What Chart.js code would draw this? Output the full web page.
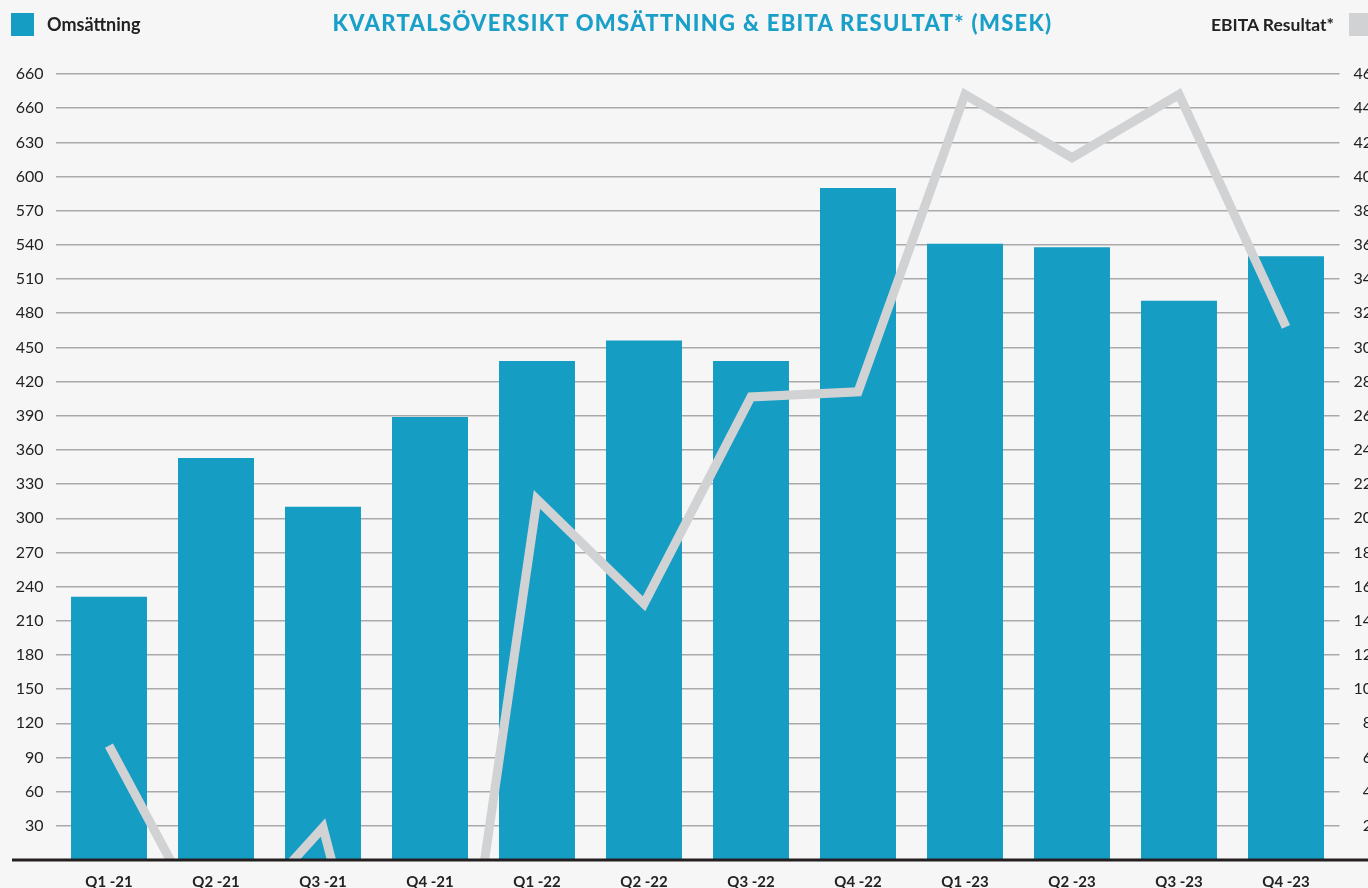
<!DOCTYPE html>
<html><head><meta charset="utf-8">
<script src="https://cdn.jsdelivr.net/npm/chart.js@4"></script>
<style>
html,body{margin:0;padding:0;overflow:hidden;background:#f6f6f6;width:1368px;height:888px;}
#wrap{position:absolute;left:0;top:0;width:1372px;height:888px;}
canvas{position:absolute;left:0;top:0;}
.txt{position:absolute;font-family:Lato,"Open Sans",sans-serif;font-weight:700;white-space:nowrap;}
.box{position:absolute;}
</style></head><body>
<div id="wrap">
<canvas id="c" width="1372" height="888"></canvas>
<div class="box" id="box1" style="left:11px;top:13px;width:23px;height:23px;"></div>
<div class="txt" id="leg1" style="left:47px;top:13px;font-size:18px;color:#222;"></div>
<div class="txt" id="title" style="left:0;width:1385px;text-align:center;top:9px;font-size:22px;font-weight:900;color:#1aa0c8;letter-spacing:1.3px;"></div>
<div class="txt" id="leg2" style="right:38px;top:14px;font-size:17.5px;color:#222;"></div>
<div class="box" id="box2" style="left:1349px;top:13px;width:30px;height:23px;"></div>
</div>
<script>
const titleText = 'KVARTALSÖVERSIKT OMSÄTTNING & EBITA RESULTAT* (MSEK)';
const categories = ['Q1 -21','Q2 -21','Q3 -21','Q4 -21','Q1 -22','Q2 -22','Q3 -22','Q4 -22','Q1 -23','Q2 -23','Q3 -23','Q4 -23'];
const seriesNames = ['Omsättning', 'EBITA Resultat*'];
const omsattning = [231, 353, 310, 389, 438, 456, 438, 590, 541, 538, 491, 530];
const ebita = [6.7, -5, 1.9, -22, 21.1, 15.0, 27.1, 27.4, 44.8, 41.1, 44.8, 31.2];
const leftTickLabels = ['', '30','60','90','120','150','180','210','240','270','300','330','360','390','420','450','480','510','540','570','600','630','660','660'];
const rightTickLabels = ['', '2','4','6','8','10','12','14','16','18','20','22','24','26','28','30','32','34','36','38','40','42','44','46'];
const leftMax = 690, leftStep = 30, rightMax = 46, rightStep = 2;

const barColor = '#169dc3';
const lineColor = '#d1d2d4';

document.getElementById('title').textContent = titleText;
document.getElementById('leg1').textContent = seriesNames[0];
document.getElementById('leg2').textContent = seriesNames[1];
document.getElementById('box1').style.background = barColor;
document.getElementById('box2').style.background = lineColor;

const baselinePlugin = {
  id: 'baseline',
  afterDatasetsDraw(chart) {
    const y = chart.scales.y.getPixelForValue(0);
    const ctx = chart.ctx;
    ctx.save();
    ctx.strokeStyle = '#231f20';
    ctx.lineWidth = 3;
    ctx.beginPath();
    ctx.moveTo(12, y);
    ctx.lineTo(chart.width, y);
    ctx.stroke();
    ctx.restore();
  }
};

const tickFont = {family: 'Lato, "Open Sans", sans-serif', size: 16};

new Chart(document.getElementById('c'), {
  data: {
    labels: categories,
    datasets: [
      {type: 'line', label: seriesNames[1], data: ebita, yAxisID: 'y2', borderColor: lineColor,
       borderWidth: 9, pointRadius: 0, pointHoverRadius: 0, tension: 0, borderJoinStyle: 'miter',
       borderCapStyle: 'butt', order: 0, clip: 0},
      {type: 'bar', label: seriesNames[0], data: omsattning, yAxisID: 'y', backgroundColor: barColor,
       barPercentage: 0.71, categoryPercentage: 1, order: 1}
    ]
  },
  options: {
    responsive: false,
    animation: false,
    devicePixelRatio: 1,
    layout: {padding: {top: 74, left: 0, right: 0, bottom: 0}},
    plugins: {legend: {display: false}, tooltip: {enabled: false}, title: {display: false}},
    scales: {
      x: {
        grid: {display: false, drawTicks: false},
        border: {display: false},
        ticks: {font: {family: 'Lato, "Open Sans", sans-serif', size: 15, weight: 'bold'}, color: '#222', padding: 13, maxRotation: 0, autoSkip: false},
        afterFit(s) { s.height = 28; }
      },
      y: {
        position: 'left', min: 0, max: leftMax,
        ticks: {stepSize: leftStep, font: tickFont, color: '#222', padding: 12,
                callback: (v, i) => leftTickLabels[i]},
        grid: {color: '#a9a9a9', lineWidth: (c) => c.index === 0 ? 0 : 1.5, drawTicks: false},
        border: {display: false},
        afterFit(s) { s.width = 55.5; }
      },
      y2: {
        position: 'right', min: 0, max: rightMax,
        ticks: {stepSize: rightStep, font: tickFont, color: '#222', padding: 12, crossAlign: 'far',
                callback: (v, i) => rightTickLabels[i]},
        grid: {drawOnChartArea: false, drawTicks: false},
        border: {display: false},
        afterFit(s) { s.width = 32.5; }
      }
    }
  },
  plugins: [baselinePlugin]
});
</script>
</body></html>
